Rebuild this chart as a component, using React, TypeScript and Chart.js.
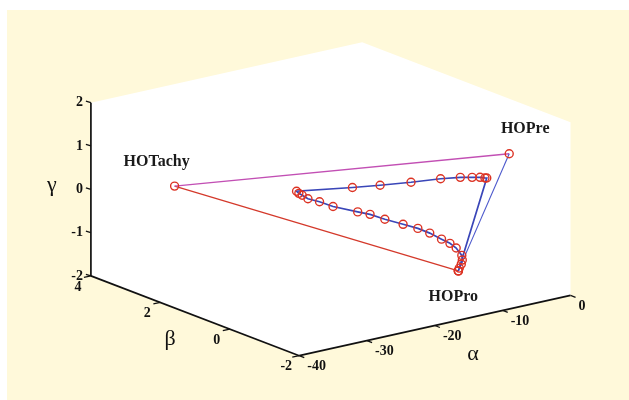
import React, { useEffect, useRef } from 'react';
import { Chart, registerables } from 'chart.js';
Chart.register(...registerables);

// ---- data (3-D state space: alpha, beta, gamma) ----
const ALPHA_TICKS = [-40, -30, -20, -10, 0];
const BETA_TICKS = [4, 2, 0, -2];
const GAMMA_TICKS = [2, 1, 0, -1, -2];

const STATE_NAMES = ['HOTachy', 'HOPre', 'HOPro'];
const STATE_ALPHA = [-32.78, -3.92, -6.3];
const STATE_BETA = [3, -1, 0];
const STATE_GAMMA = [0.13, 1.1, -1.83];

const LOOP_ALPHA = [-6.3, -2.11, -2.38, -3.1, -4.27, -6.01, -8.92, -13.28, -17.84, -21.92, -30.16, -29.82, -29.33, -28.48, -26.77, -24.78, -21.14, -19.32, -17.14, -14.45, -12.27, -10.52, -8.78, -7.54, -6.62, -5.79, -5.72, -5.87, -6.16, -6.3];
const LOOP_BETA = [0, 0, 0, 0, 0, 0, 0, 0, 0, 0, 0, 0, 0, 0, 0, 0, 0, 0, 0, 0, 0, 0, 0, 0, 0, 0, 0, 0, 0, 0];
const LOOP_GAMMA = [-1.83, 0.17, 0.18, 0.22, 0.26, 0.32, 0.39, 0.46, 0.55, 0.64, 0.84, 0.78, 0.72, 0.61, 0.48, 0.3, 0.05, -0.07, -0.26, -0.47, -0.64, -0.81, -1.01, -1.15, -1.29, -1.49, -1.6, -1.69, -1.77, -1.83];

// ---- view (orthographic projection of the 3-D box onto the canvas) ----
const VIEW = {
  a0: -40, a1: 0, b0: -2, b1: 4, c0: -2, c1: 2,
  ox: 299, oy: 360,
  ax: 6.9, ay: -1.55,
  bx: -35.333, by: -13.667,
  cx: 0, cy: -44.5,
};

function project(a: number, b: number, g: number) {
  const A = a - VIEW.a0, B = b - VIEW.b0, G = g - VIEW.c0;
  return {
    x: VIEW.ox + A * VIEW.ax + B * VIEW.bx + G * VIEW.cx,
    y: VIEW.oy + A * VIEW.ay + B * VIEW.by + G * VIEW.cy,
  };
}

const W = 629, H = 400;
const SERIF = '"Liberation Serif", "Times New Roman", serif';

const boxPlugin = {
  id: 'box3d',
  beforeDatasetsDraw(chart: any) {
    const ctx = chart.ctx as CanvasRenderingContext2D;
    const sx = chart.scales.x, sy = chart.scales.y;
    const P = (a: number, b: number, g: number) => {
      const p = project(a, b, g);
      return { x: sx.getPixelForValue(p.x), y: sy.getPixelForValue(p.y) };
    };
    const { a0, a1, b0, b1, c0, c1 } = VIEW;
    ctx.save();
    ctx.fillStyle = '#ffffff';
    ctx.fillRect(0, 0, W, H);
    ctx.fillStyle = '#fff9da';
    ctx.fillRect(7, 10, W - 7, H - 10);
    const poly = [P(a0, b1, c1), P(a1, b1, c1), P(a1, b0, c1), P(a1, b0, c0), P(a0, b0, c0), P(a0, b1, c0)];
    ctx.fillStyle = '#ffffff';
    ctx.beginPath();
    poly.forEach((p, i) => (i ? ctx.lineTo(p.x, p.y) : ctx.moveTo(p.x, p.y)));
    ctx.closePath();
    ctx.fill();
    ctx.strokeStyle = '#111';
    ctx.lineWidth = 1.7;
    const line = (p: any, q: any) => { ctx.beginPath(); ctx.moveTo(p.x, p.y); ctx.lineTo(q.x, q.y); ctx.stroke(); };
    line(P(a0, b1, c0), P(a0, b1, c1));
    line(P(a0, b1, c0), P(a0, b0, c0));
    line(P(a0, b0, c0), P(a1, b0, c0));
    ctx.fillStyle = '#111';
    ctx.font = `bold 14px ${SERIF}`;
    ctx.lineWidth = 1.3;
    GAMMA_TICKS.forEach((g) => {
      const p = P(a0, b1, g);
      line(p, { x: p.x - 5, y: p.y - 1.5 });
      ctx.textAlign = 'right';
      ctx.textBaseline = 'middle';
      ctx.fillText(String(g), p.x - 8, p.y);
    });
    BETA_TICKS.forEach((b) => {
      const p = P(a0, b, c0);
      line(p, { x: p.x - 7, y: p.y + 1.5 });
      ctx.textAlign = 'center';
      ctx.textBaseline = 'middle';
      ctx.fillText(String(b), p.x - 13, p.y + 11);
    });
    ALPHA_TICKS.forEach((a) => {
      const p = P(a, b0, c0);
      line(p, { x: p.x + 5, y: p.y + 2 });
      ctx.textAlign = 'left';
      ctx.textBaseline = 'middle';
      ctx.fillText(String(a), p.x + 8, p.y + 11);
    });
    ctx.font = `22px ${SERIF}`;
    ctx.textAlign = 'center';
    ctx.textBaseline = 'middle';
    const gm = P(a0, b1, 0);
    ctx.fillText('γ', gm.x - 39, gm.y - 4);
    const bm = P(a0, (b0 + b1) / 2, c0);
    ctx.fillText('β', bm.x - 25, bm.y + 23);
    const am = P((a0 + a1) / 2, b0, c0);
    ctx.fillText('α', am.x + 38, am.y + 29);
    ctx.restore();
  },
  afterDatasetsDraw(chart: any) {
    const ctx = chart.ctx as CanvasRenderingContext2D;
    const sx = chart.scales.x, sy = chart.scales.y;
    const offsets = [[-18, -24], [16, -25], [-5, 26]];
    ctx.save();
    ctx.fillStyle = '#1a1a1a';
    ctx.font = `bold 16px ${SERIF}`;
    ctx.textAlign = 'center';
    ctx.textBaseline = 'middle';
    STATE_NAMES.forEach((n, i) => {
      const p = project(STATE_ALPHA[i], STATE_BETA[i], STATE_GAMMA[i]);
      ctx.fillText(n, sx.getPixelForValue(p.x) + offsets[i][0], sy.getPixelForValue(p.y) + offsets[i][1]);
    });
    ctx.restore();
  },
};

export default function App() {
  const ref = useRef<HTMLCanvasElement | null>(null);
  useEffect(() => {
    if (!ref.current) return;
    const st = (i: number) => project(STATE_ALPHA[i], STATE_BETA[i], STATE_GAMMA[i]);
    const loop = LOOP_ALPHA.map((a, i) => project(a, LOOP_BETA[i], LOOP_GAMMA[i]));
    const seg = (p: any, q: any, color: string, width: number, order: number) => ({
      data: [p, q], showLine: true, borderColor: color, borderWidth: width, pointRadius: 0, order,
    });
    const chart = new Chart(ref.current, {
      type: 'scatter',
      data: {
        datasets: [
          {
            data: [0, 1, 2].map(st), showLine: false, pointRadius: 4, pointBorderWidth: 1.4,
            pointBorderColor: '#dc3324', pointBackgroundColor: 'rgba(0,0,0,0)', order: 0,
          } as any,
          {
            data: loop, showLine: true, borderColor: '#3a46b8', borderWidth: 1.7,
            pointRadius: 4, pointBorderWidth: 1.4, pointBorderColor: '#dc3324',
            pointBackgroundColor: 'rgba(0,0,0,0)', order: 1,
          } as any,
          seg(st(2), st(1), '#4c58cc', 1.1, 2),
          seg(st(0), st(1), '#c24fb4', 1.3, 3),
          seg(st(0), st(2), '#d4392b', 1.3, 4),
        ],
      },
      options: {
        animation: false,
        responsive: false,
        devicePixelRatio: 1,
        layout: { padding: 0 },
        plugins: { legend: { display: false }, tooltip: { enabled: false } },
        scales: {
          x: { type: 'linear', min: 0, max: W, display: false },
          y: { type: 'linear', min: 0, max: H, reverse: true, display: false },
        },
      },
      plugins: [boxPlugin],
    });
    return () => chart.destroy();
  }, []);
  return (
    <div style={{ position: 'fixed', left: 0, top: 0, width: W, height: H }}>
      <canvas ref={ref} width={W} height={H} style={{ width: W, height: H, display: 'block' }} />
    </div>
  );
}
